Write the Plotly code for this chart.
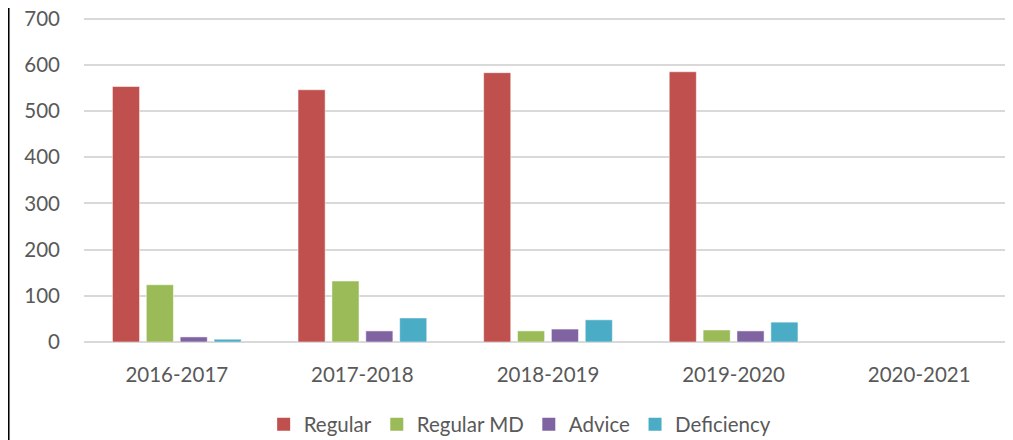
import plotly.graph_objects as go

years = ["2016-2017", "2017-2018", "2018-2019", "2019-2020", "2020-2021"]
regular = [553, 546, 583, 585, None]
regular_md = [124, 132, 24, 26, None]
advice = [11, 24, 28, 24, None]
deficiency = [6, 52, 48, 43, None]

series = [
    ("Regular", regular, "#C0504D"),
    ("Regular MD", regular_md, "#9BBB59"),
    ("Advice", advice, "#8064A2"),
    ("Deficiency", deficiency, "#4BACC6"),
]

fig = go.Figure()
for name, vals, color in series:
    fig.add_trace(go.Bar(
        x=years, y=vals, name=name, showlegend=False,
        marker=dict(color=color, line=dict(color="white", width=0.5)),
    ))
# legend entries with bigger square swatches
for name, vals, color in series:
    fig.add_trace(go.Scatter(
        x=[None], y=[None], name=name, mode="markers",
        marker=dict(symbol="square", size=13, color=color),
    ))

# page body has an 8px margin, so the figure is sized to fill the rest
fig.update_layout(
    width=1005, height=432,
    margin=dict(l=76, r=1, t=6, b=98, autoexpand=False),
    paper_bgcolor="white", plot_bgcolor="white",
    font=dict(family="Lato, Open Sans, sans-serif", size=20.5, color="#595959"),
    barmode="group", bargap=0.27, bargroupgap=0.2,
    legend=dict(orientation="h", x=0.47, xanchor="center", y=-0.19, yanchor="top",
                font=dict(size=20.5), itemwidth=30, traceorder="normal"),
    showlegend=True,
)
fig.update_yaxes(range=[0, 710], tickvals=[0, 100, 200, 300, 400, 500, 600, 700],
                 gridcolor="#D9D9D9", gridwidth=1.5, automargin=False,
                 zeroline=True, zerolinecolor="#D9D9D9", zerolinewidth=1.5,
                 ticks="", ticklabelstandoff=23, ticklabeloverflow="allow")
fig.update_xaxes(showgrid=False, ticks="", ticklabelstandoff=18, automargin=False)

# left frame line
fig.add_shape(type="line", xref="paper", yref="paper",
              x0=-0.0813, x1=-0.0813, y0=-0.35, y1=1.1,
              line=dict(color="black", width=2))

fig.write_html("out.html")
